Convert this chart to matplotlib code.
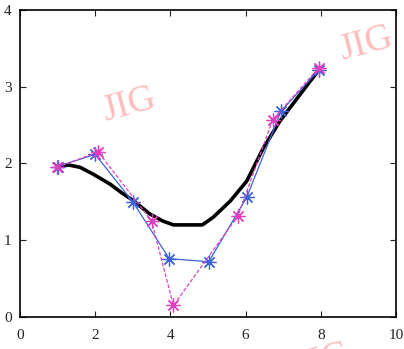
import numpy as np
import matplotlib
matplotlib.use('Agg')
import matplotlib.pyplot as plt

plt.rcParams['font.family'] = ['Liberation Serif', 'DejaVu Serif']

# thick black curve
curve_x = [1.0, 1.3, 1.6, 1.95, 2.4, 2.7, 3.0, 3.46, 3.8, 4.08, 4.5, 4.85, 5.14, 5.59, 6.03, 6.47, 6.91, 7.45, 7.95]
curve_y = [1.97, 1.98, 1.95, 1.86, 1.73, 1.62, 1.52, 1.34, 1.25, 1.2, 1.2, 1.2, 1.3, 1.51, 1.77, 2.2, 2.55, 2.9, 3.22]

# blue series
blue_x = [1.0, 2.0, 3.0, 3.97, 5.02, 6.03, 6.94, 7.95]
blue_y = [1.96, 2.12, 1.5, 0.76, 0.72, 1.56, 2.68, 3.22]

# magenta series
mag_x = [0.98, 2.08, 3.5, 4.08, 5.8, 6.72, 7.95]
mag_y = [1.95, 2.15, 1.25, 0.15, 1.32, 2.57, 3.25]

xticks = [0, 2, 4, 6, 8, 10]
yticks = [0, 1, 2, 3, 4]

fig = plt.figure(figsize=(4.04, 3.49), dpi=100)
ax = fig.add_axes([0.0495, 0.0917, 0.9307, 0.8797])

ax.plot(curve_x, curve_y, color='black', linewidth=2.6, solid_capstyle='round',
        solid_joinstyle='round', zorder=2)
ax.plot(blue_x, blue_y, color='#3c64d8', linewidth=0.9, marker=(8, 2, 0), markersize=10,
        markeredgewidth=0.9, zorder=3)
ax.plot(mag_x, mag_y, color='#e040c0', linewidth=0.9, linestyle='--', dashes=(3, 1.5),
        marker=(8, 2, 0), markersize=10, markeredgewidth=0.9, zorder=4)

ax.set_xlim(0, 10)
ax.set_ylim(0, 4)
ax.set_xticks(xticks)
ax.set_yticks(yticks)
ax.tick_params(direction='in', top=True, right=True, length=4, width=0.8,
               labelsize=11, colors='#222222')
ax.tick_params(axis='x', pad=9)
ax.tick_params(axis='y', pad=6)
for s in ax.spines.values():
    s.set_linewidth(1.2)

# watermarks
for (wx, wy) in [(0.32, 0.70), (0.905, 0.875), (0.80, -0.035)]:
    fig.text(wx, wy, 'JIG', fontsize=27, color='#ffbcbc', rotation=15,
             ha='center', va='center', zorder=0)

fig.savefig('out.png', dpi=100)
